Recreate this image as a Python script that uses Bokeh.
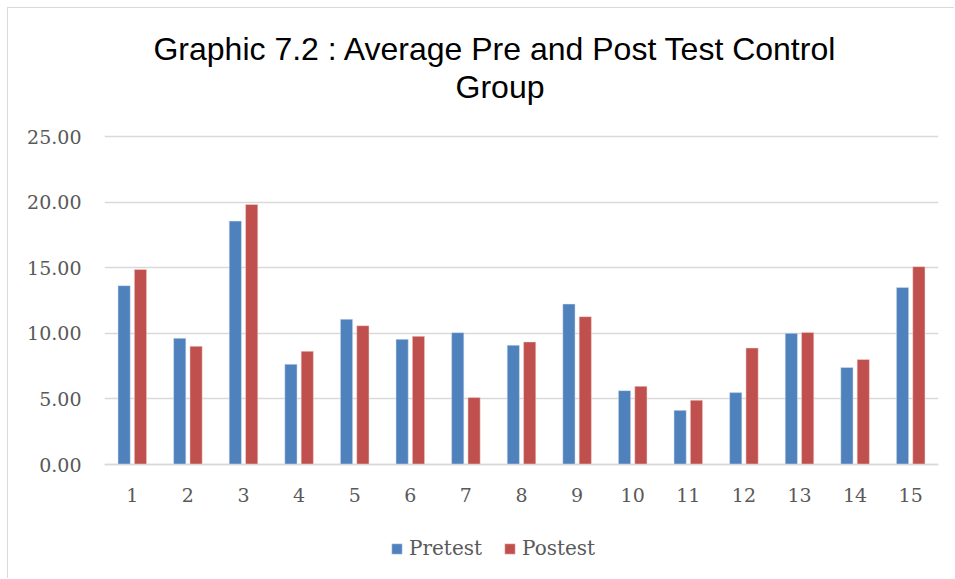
from bokeh.plotting import figure
from bokeh.models import ColumnDataSource, Legend, LegendItem, FixedTicker, NumeralTickFormatter, Range1d, Label
from bokeh.transform import dodge
from bokeh.embed import file_html
from bokeh.resources import INLINE

categories = [str(i) for i in range(1, 16)]
pretest = [13.63, 9.62, 18.55, 7.64, 11.07, 9.54, 10.05, 9.09, 12.23, 5.63, 4.13, 5.48, 10.00, 7.39, 13.50]
postest = [14.87, 9.01, 19.82, 8.63, 10.58, 9.77, 5.10, 9.34, 11.27, 5.96, 4.90, 8.88, 10.07, 8.00, 15.08]
y_ticks = [0, 5, 10, 15, 20, 25]
title_lines = ["Graphic 7.2 : Average Pre and Post Test  Control", "Group"]

# layout: the figure sits at (8, 8) inside a thin chart border; the plotting frame
# spans the full figure height and the value axis runs 0..25
OFF = 8
W, H = 955 - OFF, 579 - OFF
Y_TOP_PX, Y_ZERO_PX = 136 - OFF, 464 - OFF   # rows of the 25 and 0 gridlines in the figure
px_per_unit = (Y_ZERO_PX - Y_TOP_PX) / 25.0
y_lo = -(H - Y_ZERO_PX) / px_per_unit
y_hi = 25 + Y_TOP_PX / px_per_unit

src = ColumnDataSource(dict(cat=categories, pre=pretest, post=postest))

p = figure(width=W, height=H, x_range=categories, y_range=Range1d(y_lo, y_hi),
           output_backend="svg", toolbar_location=None,
           min_border_left=104 - OFF, min_border_right=17, min_border_top=0, min_border_bottom=0)
p.styles = {"border-left": "1px solid #d9d9d9", "border-top": "1px solid #d9d9d9",
            "margin-left": "7px", "margin-top": "7px"}
p.title.visible = False
p.outline_line_color = None
p.background_fill_color = "white"

r1 = p.vbar(x=dodge("cat", -0.147, range=p.x_range), top="pre", width=0.22, source=src,
            fill_color="#4f81bd", line_color="#dbe5f1", line_width=0.5)
r2 = p.vbar(x=dodge("cat", 0.147, range=p.x_range), top="post", width=0.22, source=src,
            fill_color="#c0504d", line_color="#f2dcdb", line_width=0.5)

# axes
p.yaxis.ticker = FixedTicker(ticks=y_ticks)
p.yaxis.formatter = NumeralTickFormatter(format="0.00")
p.yaxis.axis_line_color = None
p.yaxis.major_tick_line_color = None
p.yaxis.minor_tick_line_color = None
p.yaxis.major_label_standoff = 17
p.yaxis.major_label_text_font = "DejaVu Serif"
p.yaxis.major_label_text_font_size = "19px"
p.yaxis.major_label_text_color = "#595959"

p.xaxis.fixed_location = 0
p.xaxis.axis_line_color = "#d9d9d9"
p.xaxis.axis_line_width = 1.5
p.xaxis.major_tick_line_color = None
p.xaxis.minor_tick_line_color = None
p.xaxis.major_label_standoff = 17
p.xaxis.major_label_text_font = "DejaVu Serif"
p.xaxis.major_label_text_font_size = "19px"
p.xaxis.major_label_text_color = "#595959"

p.xgrid.grid_line_color = None
p.ygrid.grid_line_color = "#d9d9d9"
p.ygrid.grid_line_width = 1.5

# title (two centred lines), positioned relative to the frame's bottom-left corner
for txt, yy in zip(title_lines, [579 - 48, 579 - 86]):
    p.add_layout(Label(x=395.5, y=yy, x_units="screen", y_units="screen", text=txt,
                       text_align="center", text_baseline="middle",
                       text_font="Liberation Sans", text_font_size="32px", text_color="#000000"))

legend = Legend(items=[LegendItem(label="Pretest", renderers=[r1]),
                       LegendItem(label="Postest", renderers=[r2])],
                orientation="horizontal", location=(286, 19),
                glyph_width=13, glyph_height=13, label_standoff=6, spacing=21,
                padding=0, margin=0, border_line_alpha=0, background_fill_alpha=0,
                label_text_font="DejaVu Serif", label_text_font_size="20px",
                label_text_color="#595959")
p.add_layout(legend, "center")

open("out.html", "w").write(file_html(p, INLINE))
